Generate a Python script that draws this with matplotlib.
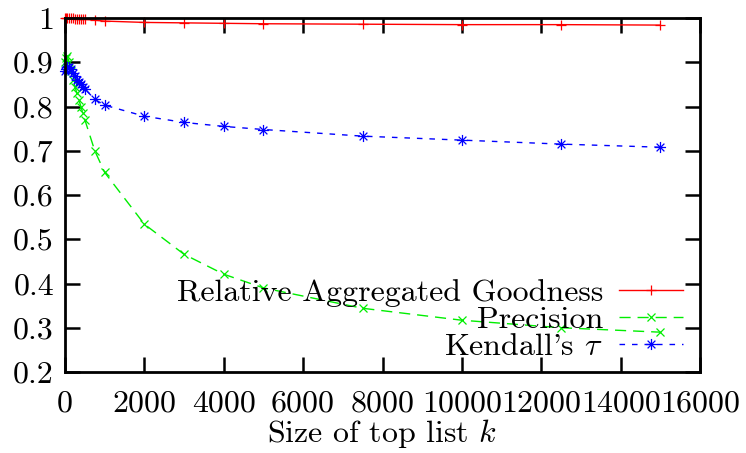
import matplotlib
matplotlib.use("Agg")
import matplotlib.pyplot as plt
from matplotlib.path import Path

plt.rcParams['font.family'] = ['cmr10', 'DejaVu Serif']
plt.rcParams['mathtext.fontset'] = 'cm'
plt.rcParams['axes.formatter.use_mathtext'] = True

k = [10, 20, 50, 100, 150, 200, 250, 300, 350, 400, 450, 500, 750, 1000,
     2000, 3000, 4000, 5000, 7500, 10000, 12500, 15000]
goodness = [1.0, 1.0, 1.0, 0.999, 0.999, 0.999, 0.998, 0.998, 0.998, 0.997, 0.997, 0.997,
            0.995, 0.993, 0.990, 0.989, 0.988, 0.987, 0.986, 0.985, 0.985, 0.984]
precision = [0.90, 0.91, 0.915, 0.90, 0.88, 0.86, 0.845, 0.83, 0.815, 0.80, 0.785, 0.77,
             0.70, 0.651, 0.534, 0.466, 0.421, 0.390, 0.344, 0.317, 0.300, 0.290]
kendall = [0.88, 0.885, 0.89, 0.89, 0.885, 0.875, 0.868, 0.86, 0.855, 0.85, 0.845, 0.84,
           0.816, 0.803, 0.778, 0.764, 0.755, 0.748, 0.733, 0.724, 0.715, 0.708]

labels = ["Relative Aggregated Goodness", "Precision", r"Kendall's $\tau$"]
xticks = [0, 2000, 4000, 6000, 8000, 10000, 12000, 14000, 16000]
yticks = [0.2, 0.3, 0.4, 0.5, 0.6, 0.7, 0.8, 0.9, 1.0]

star = Path([(-1, 0), (1, 0), (0, -1), (0, 1), (-0.7, -0.7), (0.7, 0.7), (-0.7, 0.7), (0.7, -0.7)],
            [Path.MOVETO, Path.LINETO] * 4)

fig = plt.figure(figsize=(7.46, 4.53), dpi=100)
ax = fig.add_axes([65/746, 1 - 372/453, (700 - 65)/746, (372 - 18)/453])

ax.plot(k, goodness, color='#ff0000', lw=1.0, marker='+', ms=7, mew=0.9, label=labels[0],
        clip_on=False)
ax.plot(k, precision, color='#00ee00', lw=1.0, ls=(0, (8, 5)), marker='x', ms=6, mew=0.9,
        label=labels[1], clip_on=False)
ax.plot(k, kendall, color='#0000ff', lw=1.0, ls=(0, (4, 5)), marker=star, ms=8, mew=0.9,
        label=labels[2], clip_on=False)

ax.set_xlim(0, 16000)
ax.set_ylim(0.2, 1.0)
ax.set_xticks(xticks)
ax.set_xticklabels([str(v) for v in xticks])
ax.set_yticks(yticks)
ax.set_yticklabels(['%g' % v for v in yticks])

for s in ax.spines.values():
    s.set_linewidth(2.0)
    s.set_zorder(5)
ax.tick_params(direction='in', length=11, width=1.8, top=True, right=True,
               labelsize=23)
ax.tick_params(axis='x', pad=13)
ax.tick_params(axis='y', pad=8)
ax.set_xlabel(r"Size of top list $k$", fontsize=23, labelpad=0)

leg = ax.legend(loc='lower right', markerfirst=False, frameon=False, fontsize=23,
                handlelength=2.0, handletextpad=0.5, labelspacing=-0.05,
                borderaxespad=0.0, bbox_to_anchor=(0.993, -0.005))

fig.savefig("out.png", dpi=100)
